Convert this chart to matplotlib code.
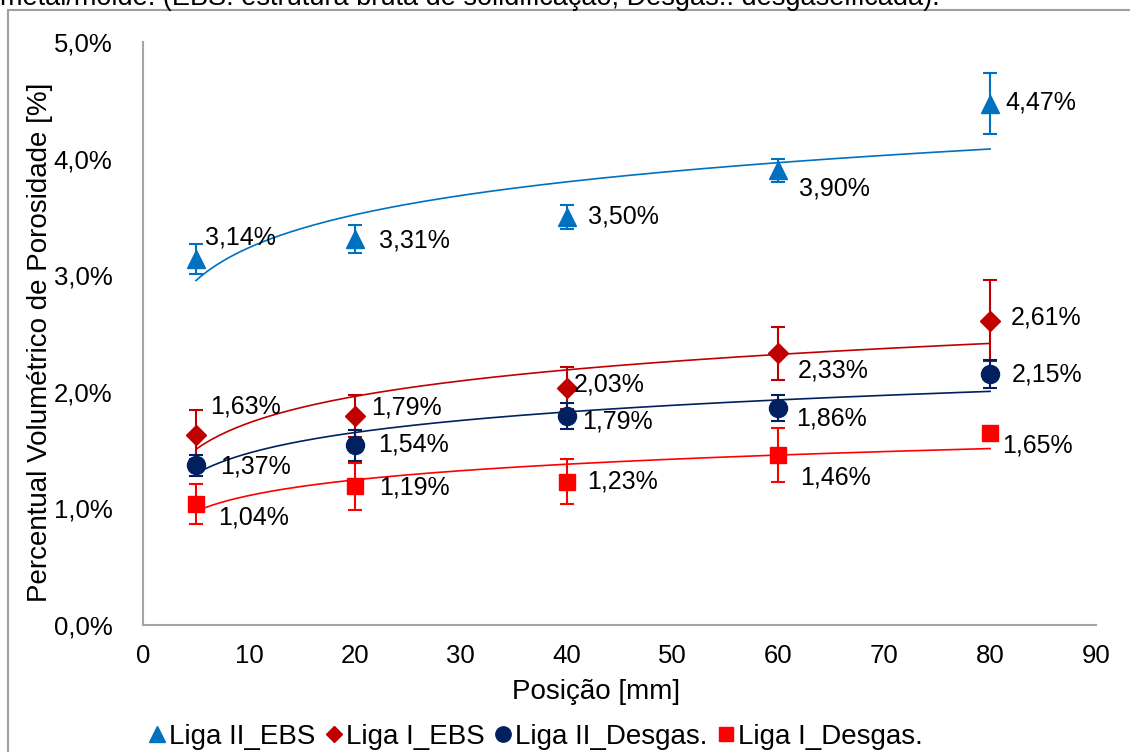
import numpy as np
import matplotlib
matplotlib.use("Agg")
import matplotlib.pyplot as plt
from matplotlib.patches import Rectangle
from matplotlib.lines import Line2D

plt.rcParams['font.family'] = ['Liberation Sans', 'DejaVu Sans']

# Sampling positions along the casting [mm]
positions = [5, 20, 40, 60, 80]

# Volumetric porosity [%] and error bar half-widths per alloy/condition
liga2_ebs = [3.14, 3.31, 3.50, 3.90, 4.47]
liga2_ebs_err = [0.13, 0.12, 0.10, 0.10, 0.26]

liga1_ebs = [1.63, 1.79, 2.03, 2.33, 2.61]
liga1_ebs_err = [0.21, 0.18, 0.18, 0.23, 0.35]

liga2_desg = [1.37, 1.54, 1.79, 1.86, 2.15]
liga2_desg_err = [0.09, 0.13, 0.11, 0.11, 0.12]

liga1_desg = [1.04, 1.19, 1.23, 1.46, 1.65]
liga1_desg_err = [0.17, 0.20, 0.19, 0.23, 0.02]

series_names = ["Liga II_EBS", "Liga I_EBS", "Liga II_Desgas.", "Liga I_Desgas."]

# Data-label offsets in pixels (dx, dy) for each point
label_offsets = [
    [(9, 21), (24, -1), (21, 0), (21, -18), (15, 1)],
    [(14, 28), (16, 9), (7, 4), (19, -17), (21, 3)],
    [(24, -1), (23, 1), (16, -5), (18, -10), (22, 0)],
    [(22, -14), (24, -1), (21, 0), (22, -23), (12, -13)],
]

styles = [
    dict(color="#0070C0", marker="^", ms=13),
    dict(color="#C00000", marker="D", ms=10),
    dict(color="#002060", marker="o", ms=13),
    dict(color="#FF0000", marker="s", ms=12),
]

values = [liga2_ebs, liga1_ebs, liga2_desg, liga1_desg]
errors = [liga2_ebs_err, liga1_ebs_err, liga2_desg_err, liga1_desg_err]

W, H = 1130, 752
fig = plt.figure(figsize=(W / 100, H / 100), dpi=100)
ax = fig.add_axes([143 / W, 1 - 625 / H, (1096 - 143) / W, (625 - 42) / H])

x = np.array(positions, dtype=float)
xfit = np.linspace(x.min(), x.max(), 200)

FS = 18
FS_LABEL = 20
handles = []
for name, y, err, st, offs in zip(series_names, values, errors, styles, label_offsets):
    y = np.array(y)
    # logarithmic trend line
    a, b = np.polyfit(np.log(x), y, 1)
    ax.plot(xfit, a * np.log(xfit) + b, color=st["color"], lw=1.2, zorder=2)
    ax.errorbar(x, y, yerr=err, fmt="none", ecolor=st["color"], elinewidth=1.5,
                capsize=5, capthick=1.5, zorder=3)
    ax.plot(x, y, linestyle="none", marker=st["marker"], ms=st["ms"],
            color=st["color"], mec=st["color"], zorder=4)
    for xi, yi, (dx, dy) in zip(x, y, offs):
        ax.annotate(f"{yi:.2f}%".replace(".", ","), (xi, yi),
                    xytext=(dx, dy), textcoords="offset pixels",
                    ha="left", va="center", fontsize=FS, color="#000000", zorder=5)
    handles.append(Line2D([], [], linestyle="none", marker=st["marker"],
                          ms=st["ms"] * 0.85, color=st["color"], label=name))

ax.set_xlim(0, 90)
ax.set_ylim(0, 5)
ax.set_xticks(range(0, 91, 10))
ax.set_yticks(np.arange(0, 5.01, 1))
ax.set_yticklabels([f"{v:.1f}%".replace(".", ",") for v in np.arange(0, 5.01, 1)])
ax.tick_params(axis="both", labelsize=18.5, length=0, colors="#000000")
ax.tick_params(axis="y", pad=22)
ax.tick_params(axis="x", pad=14)

for side in ["top", "right"]:
    ax.spines[side].set_visible(False)
for side in ["left", "bottom"]:
    ax.spines[side].set_color("#A6A6A6")
    ax.spines[side].set_linewidth(1.5)

ax.set_xlabel("Posição [mm]", fontsize=FS_LABEL)
ax.set_ylabel("Percentual Volumétrico de Porosidade [%]", fontsize=FS_LABEL)
ax.xaxis.set_label_coords((596 - 143) / (1096 - 143), -(692 - 625) / (625 - 42))
ax.yaxis.set_label_coords(-(143 - 40) / (1096 - 143), (625 - 342) / (625 - 42))
ax.xaxis.label.set_va("center")
ax.yaxis.label.set_va("center")

fig.legend(handles=handles, loc="center", bbox_to_anchor=(535 / W, 1 - 737 / H),
           ncol=4, frameon=False, fontsize=FS_LABEL, handlelength=0.7,
           handletextpad=0.1, columnspacing=0.3, borderpad=0)

# Surrounding frame
fig.patches.append(Rectangle((8 / W, -0.05), 1.1, 1 - 10 / H + 0.05,
                             transform=fig.transFigure, fill=False,
                             edgecolor="#A0A0A0", lw=1.5))

# Caption line above the frame
fig.text(0.0, 1 - 5 / H,
         "metal/molde. (EBS: estrutura bruta de solidificação; Desgas.: desgaseificada).",
         fontsize=19.5, ha="left", va="baseline")

fig.savefig("out.png", dpi=100)
